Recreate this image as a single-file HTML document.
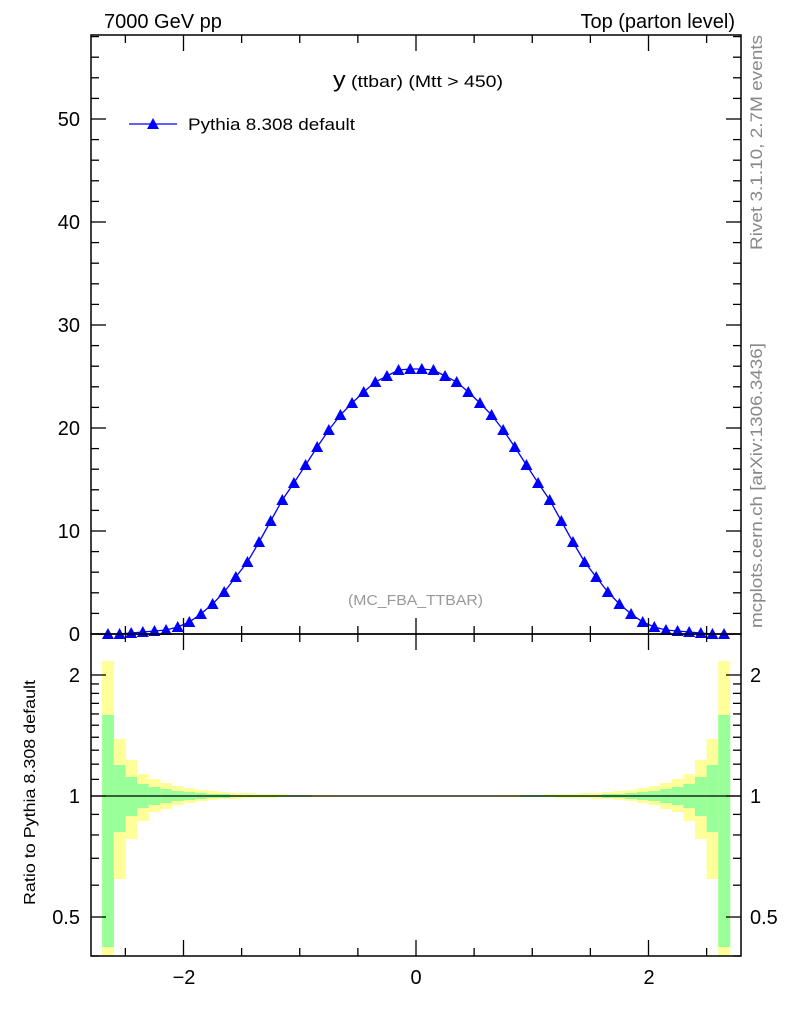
<!DOCTYPE html>
<html><head><meta charset="utf-8"><style>
body{margin:0;background:#fff}
svg{display:block;font-family:"Liberation Sans",sans-serif}
</style></head><body>
<svg id="s" width="786" height="1024" viewBox="0 0 786 1024" xmlns="http://www.w3.org/2000/svg">
<rect width="786" height="1024" fill="#fff"/>
<g id="bands"></g>
<g id="data"></g>
<g id="ticks" stroke="#000" stroke-width="1.3" fill="none"></g>
<rect x="91" y="35" width="650" height="599" fill="none" stroke="#000" stroke-width="1.5"/>
<rect x="91" y="634" width="650" height="322" fill="none" stroke="#000" stroke-width="1.5"/>
<line x1="91" y1="796" x2="741" y2="796" stroke="#000" stroke-width="1.3"/>
<text x="104" y="28" font-size="20">7000 GeV pp</text>
<text x="735" y="28" font-size="20" text-anchor="end">Top (parton level)</text>
<text x="333" y="87" font-size="17" textLength="170" lengthAdjust="spacingAndGlyphs"><tspan font-size="22">y</tspan> (ttbar) (Mtt &gt; 450)</text>
<line x1="129" y1="124" x2="177" y2="124" stroke="#00f" stroke-width="1.3"/>
<polygon points="153,118 147,129 159,129" fill="#00f"/>
<text x="188" y="130" font-size="17" textLength="167" lengthAdjust="spacingAndGlyphs">Pythia 8.308 default</text>
<text x="348" y="605" font-size="15" fill="#999" textLength="135" lengthAdjust="spacingAndGlyphs">(MC_FBA_TTBAR)</text>
<text transform="translate(762,250) rotate(-90)" font-size="17" fill="#888" textLength="215" lengthAdjust="spacingAndGlyphs">Rivet 3.1.10,  2.7M events</text>
<text transform="translate(762,628) rotate(-90)" font-size="17" fill="#888" textLength="285" lengthAdjust="spacingAndGlyphs">mcplots.cern.ch [arXiv:1306.3436]</text>
<text transform="translate(35,905) rotate(-90)" font-size="16" textLength="225" lengthAdjust="spacingAndGlyphs">Ratio to Pythia 8.308 default</text>
<g font-size="20" text-anchor="end" id="labs">
<text x="80" y="641">0</text><text x="80" y="538">10</text><text x="80" y="435">20</text>
<text x="80" y="332">30</text><text x="80" y="229">40</text><text x="80" y="126">50</text>
<text x="80" y="682">2</text><text x="80" y="803">1</text><text x="80" y="924">0.5</text>
</g>
<g font-size="20" text-anchor="start">
<text x="750" y="682">2</text><text x="750" y="803">1</text><text x="750" y="924">0.5</text>
</g>
<g font-size="20" text-anchor="middle">
<text x="184" y="984">−2</text><text x="416" y="984">0</text><text x="649" y="984">2</text>
</g>
</svg>
<script>
const NS="http://www.w3.org/2000/svg";
function el(p,t,a){const e=document.createElementNS(NS,t);for(const k in a)e.setAttribute(k,a[k]);p.appendChild(e);return e;}
const X=v=>416+v*116.25;
const off=[[135,81,151,170],[57,31,36,83],[36,19,20,43],[22,12,12,25],[17,9,9,16],[13,7,7,13],[10,5,5,9],[8,4,4,7],[6,3,3,5],[5,2,2,4],[4,2,2,3],[3,1,1,3],[3,1,1,2],[2,1,1,2],[2,1,1,2],[2,1,1,1],[1,1,1,1],[1,1,1,1],[1,0.5,0.5,1],[1,0.5,0.5,1]];
const b=document.getElementById('bands');
for(let i=0;i<54;i++){
 const k=Math.min(i,53-i);const o=k<off.length?off[k]:[0.7,0.4,0.4,0.7];
 const x0=X(-2.7+i*0.1),w=X(-2.6+i*0.1)-x0;
 const top=Math.max(635,796-o[0]);const bot=Math.min(956,796+o[3]);
 el(b,'rect',{x:x0,y:top,width:w+0.3,height:bot-top,fill:'#ffff99'});
 el(b,'rect',{x:x0,y:796-o[1],width:w+0.3,height:o[1]+o[2],fill:'#99ff99'});
}
const py=[634,634,633,632,631,630,627,622,614,604,592,577,562,542,521,500,483,465,447,430,415,403,392,382,376,370,369];
const ys=py.concat(py.slice().reverse());
const d=document.getElementById('data');
let pts=[];for(let i=0;i<54;i++)pts.push(X(-2.65+i*0.1).toFixed(1)+','+ys[i]);
el(d,'polyline',{points:pts.join(' '),fill:'none',stroke:'#00f','stroke-width':1.3});
for(let i=0;i<54;i++){const x=X(-2.65+i*0.1),y=ys[i];el(d,'polygon',{points:`${x},${y-6} ${x-6},${y+5} ${x+6},${y+5}`,fill:'#00f'});}
const t=document.getElementById('ticks');
function L(a,b2,c,e){el(t,'line',{x1:a,y1:b2,x2:c,y2:e});}
for(let v=0;v<=58;v+=2){const y=634-v*10.3;if(y<35)break;const len=v%10==0?15:8;L(91,y,91+len,y);L(741,y,741-len,y);}
for(let v=-2.5;v<=2.5;v+=0.5){const x=X(v);const len=Math.abs(v%2)<1e-6?16:8;L(x,35,x,35+len);L(x,634,x,634-len);L(x,956,x,956-len);L(x,634,x,634+len);}
const lg=v=>796-Math.log10(v)*402;
[0.4,0.5,0.6,0.7,0.8,0.9,1,1.1,1.2,1.3,1.4,1.5,1.6,1.7,1.8,1.9,2].forEach(v=>{const y=lg(v);if(y>956||y<634)return;const len=(v==0.5||v==1||v==2)?15:8;L(91,y,91+len,y);L(741,y,741-len,y);});
</script>
</body></html>
